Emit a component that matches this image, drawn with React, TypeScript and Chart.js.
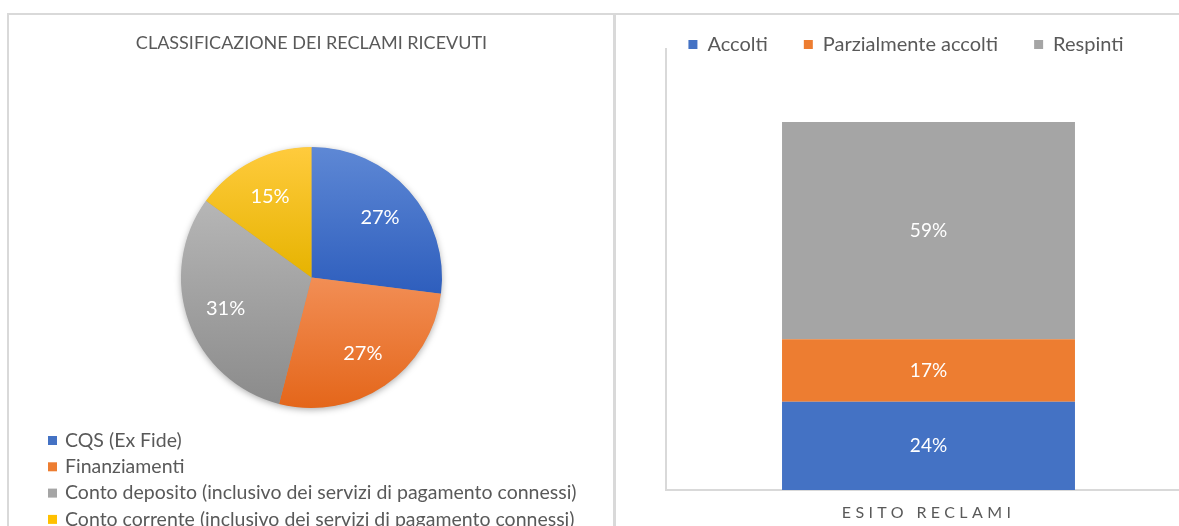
import React, { useEffect, useRef } from 'react';
import { Chart, registerables } from 'chart.js';

Chart.register(...registerables);

// ---------- DATA ----------
const pieTitle = 'CLASSIFICAZIONE DEI RECLAMI RICEVUTI';
const pieLabels = [
  'CQS (Ex Fide)',
  'Finanziamenti',
  'Conto deposito (inclusivo dei servizi di pagamento connessi)',
  'Conto corrente (inclusivo dei servizi di pagamento connessi)',
];
const pieValues = [27, 27, 31, 15];

const barCategories = ['ESITO RECLAMI'];
const barSeriesNames = ['Accolti', 'Parzialmente accolti', 'Respinti'];
const accoltiValues = [24];
const parzialmenteValues = [17];
const respintiValues = [59];
const barAxisMax = 120;

// ---------- STYLE ----------
const FONT = 'Lato, "Open Sans", sans-serif';
const TEXT = '#595959';
const GRID = '#D9D9D9';
const pieColors = ['#4472C4', '#ED7D31', '#A5A5A5', '#FFC000'];
const pieLight = ['#5E88D5', '#F28E55', '#B6B6B6', '#FFCB3D'];
const pieDark = ['#2E5EBD', '#E4661A', '#8B8B8B', '#E6B300'];
const barColors = ['#4472C4', '#ED7D31', '#A5A5A5'];

function sliceGradient(c: any) {
  const chart = c.chart;
  const area = chart.chartArea;
  const i = c.dataIndex;
  if (!area || i === undefined) return pieColors[i ?? 0];
  const cx = (area.left + area.right) / 2;
  const cy = (area.top + area.bottom) / 2;
  const r = Math.min(area.right - area.left, area.bottom - area.top) / 2;
  const total = pieValues.reduce((a, b) => a + b, 0);
  let before = 0;
  for (let k = 0; k < i; k++) before += pieValues[k];
  const s = -Math.PI / 2 + (2 * Math.PI * before) / total;
  const e = s + (2 * Math.PI * pieValues[i]) / total;
  const ys = [cy, cy + r * Math.sin(s), cy + r * Math.sin(e)];
  const norm = (a: number) => ((a % (2 * Math.PI)) + 2 * Math.PI) % (2 * Math.PI);
  const within = (a: number) => norm(a - s) <= e - s;
  if (within(-Math.PI / 2)) ys.push(cy - r);
  if (within(Math.PI / 2)) ys.push(cy + r);
  const top = Math.min(...ys);
  const bottom = Math.max(...ys);
  const g = chart.ctx.createLinearGradient(0, top, 0, bottom);
  g.addColorStop(0, pieLight[i]);
  g.addColorStop(1, pieDark[i]);
  return g;
}

const pieShadow = {
  id: 'pieShadow',
  beforeDatasetsDraw(chart: any) {
    const arc = chart.getDatasetMeta(0).data[0];
    if (!arc) return;
    const ctx = chart.ctx;
    ctx.save();
    ctx.shadowColor = 'rgba(0,0,0,0.35)';
    ctx.shadowBlur = 7;
    ctx.shadowOffsetY = 2;
    ctx.beginPath();
    ctx.arc(arc.x, arc.y, arc.outerRadius - 0.5, 0, Math.PI * 2);
    ctx.fillStyle = '#999999';
    ctx.fill();
    ctx.restore();
  },
};

const pieValueLabels = {
  id: 'pieValueLabels',
  afterDatasetsDraw(chart: any) {
    const ctx = chart.ctx;
    const meta = chart.getDatasetMeta(0);
    ctx.save();
    ctx.font = `20px ${FONT}`;
    ctx.fillStyle = '#FFFFFF';
    ctx.textAlign = 'center';
    ctx.textBaseline = 'middle';
    meta.data.forEach((el: any, i: number) => {
      const mid = (el.startAngle + el.endAngle) / 2;
      const d = el.outerRadius * 0.7;
      ctx.fillText(`${pieValues[i]}%`, el.x + Math.cos(mid) * d, el.y + Math.sin(mid) * d);
    });
    ctx.restore();
  },
};

const pieListLegend = {
  id: 'pieListLegend',
  afterDraw(chart: any) {
    const ctx = chart.ctx;
    ctx.save();
    ctx.font = `19.5px ${FONT}`;
    ctx.textBaseline = 'middle';
    ctx.textAlign = 'left';
    const startY = 424.5;
    const step = 26.3;
    chart.data.labels.forEach((t: string, i: number) => {
      const y = startY + i * step;
      ctx.fillStyle = pieColors[i];
      ctx.fillRect(38, y - 4.5, 9, 9);
      ctx.fillStyle = TEXT;
      ctx.fillText(t, 55, y);
    });
    ctx.restore();
  },
};

const barValueLabels = {
  id: 'barValueLabels',
  afterDatasetsDraw(chart: any) {
    const ctx = chart.ctx;
    ctx.save();
    ctx.font = `19px ${FONT}`;
    ctx.fillStyle = '#FFFFFF';
    ctx.textAlign = 'center';
    ctx.textBaseline = 'middle';
    chart.data.datasets.forEach((ds: any, di: number) => {
      const meta = chart.getDatasetMeta(di);
      meta.data.forEach((el: any, i: number) => {
        ctx.fillText(`${ds.data[i]}%`, el.x, (el.y + el.base) / 2);
      });
    });
    ctx.restore();
  },
};

const barTweaks = {
  id: 'barTweaks',
  beforeDraw(chart: any) {
    const s: any = chart.scales.x;
    if (s && !s.__spaced) {
      const orig = s.drawLabels.bind(s);
      s.drawLabels = (area: any) => {
        const c: any = chart.ctx;
        c.save();
        c.letterSpacing = '4.4px';
        orig(area);
        c.restore();
      };
      s.__spaced = true;
    }
    const lg: any = chart.legend;
    if (lg && !lg.__noclip) {
      lg.draw = function () {
        if (this.options.display) this._draw();
      };
      lg.__noclip = true;
    }
  },
};

export default function App() {
  const pieRef = useRef<HTMLCanvasElement>(null);
  const barRef = useRef<HTMLCanvasElement>(null);

  useEffect(() => {
    const pie = new Chart(pieRef.current as HTMLCanvasElement, {
      type: 'pie',
      data: {
        labels: pieLabels,
        datasets: [{ data: pieValues, backgroundColor: sliceGradient as any, borderWidth: 0 }],
      },
      options: {
        responsive: false,
        animation: false,
        layout: { padding: { left: 0, right: 0, top: 0, bottom: 118 } },
        plugins: {
          legend: { display: false },
          tooltip: { enabled: false },
          title: {
            display: true,
            text: pieTitle,
            color: TEXT,
            font: { family: FONT, size: 18, weight: 'normal' },
            padding: { top: 16.2, bottom: 93.2 },
          },
        },
      },
      plugins: [pieShadow, pieValueLabels, pieListLegend],
    } as any);

    const bar = new Chart(barRef.current as HTMLCanvasElement, {
      type: 'bar',
      data: {
        labels: barCategories,
        datasets: [
          { label: barSeriesNames[0], data: accoltiValues, backgroundColor: barColors[0] },
          { label: barSeriesNames[1], data: parzialmenteValues, backgroundColor: barColors[1] },
          { label: barSeriesNames[2], data: respintiValues, backgroundColor: barColors[2] },
        ],
      },
      options: {
        responsive: false,
        animation: false,
        layout: { padding: { left: 4, right: 46, top: 8.5, bottom: 4 } },
        datasets: { bar: { barPercentage: 0.558, categoryPercentage: 1, borderWidth: 0 } },
        scales: {
          x: {
            stacked: true,
            grid: { display: false, drawTicks: false },
            border: { display: true, color: GRID, width: 2 },
            ticks: { color: TEXT, font: { family: FONT, size: 16 }, padding: 13.5 },
            afterFit: (s: any) => {
              s.height = 32;
            },
          },
          y: {
            stacked: true,
            min: 0,
            max: barAxisMax,
            grid: { display: false, drawTicks: false },
            border: { display: true, color: GRID, width: 2 },
            ticks: { display: false },
            afterFit: (s: any) => {
              s.width = 45;
            },
          },
        },
        plugins: {
          tooltip: { enabled: false },
          legend: {
            position: 'top',
            maxHeight: 50,
            labels: {
              boxWidth: 9,
              boxHeight: 9,
              padding: 36,
              color: TEXT,
              font: { family: FONT, size: 20 },
            },
          },
        },
      },
      plugins: [barValueLabels, barTweaks],
    } as any);

    return () => {
      pie.destroy();
      bar.destroy();
    };
  }, []);

  return (
    <div
      style={{
        position: 'fixed',
        left: 0,
        top: 0,
        width: 1179,
        height: 526,
        overflow: 'hidden',
        background: '#FFFFFF',
      }}
    >
      <div
        style={{
          position: 'absolute',
          left: 7,
          top: 13,
          width: 1300,
          height: 600,
          borderTop: `2px solid ${GRID}`,
          borderLeft: `2px solid ${GRID}`,
          boxSizing: 'border-box',
        }}
      />
      <div style={{ position: 'absolute', left: 613, top: 13, width: 3, height: 600, background: GRID }} />
      <canvas ref={pieRef} width={603} height={510} style={{ position: 'absolute', left: 10, top: 16, width: 603, height: 510 }} />
      <canvas ref={barRef} width={620} height={536} style={{ position: 'absolute', left: 617, top: -10, width: 620, height: 536 }} />
    </div>
  );
}
